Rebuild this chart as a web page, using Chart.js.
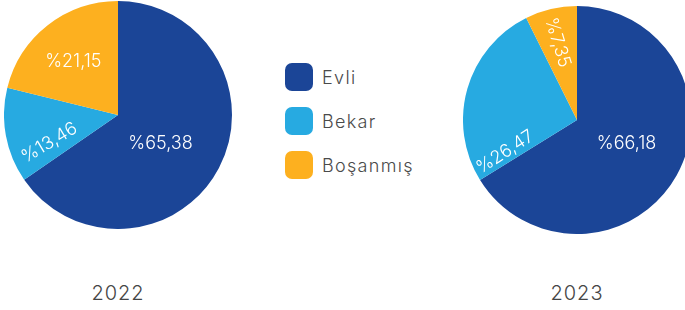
<!DOCTYPE html>
<html><head><meta charset="utf-8">
<script src="https://cdn.jsdelivr.net/npm/chart.js@4"></script>
<style>
html,body{margin:0;padding:0;background:#fff;width:685px;height:310px;overflow:hidden;position:relative;font-family:"Inter","Noto Sans",sans-serif;}
canvas{position:absolute;}
#c1{left:4px;top:1px;}
#c2{left:463px;top:6px;}
.year{position:absolute;top:281px;width:120px;text-align:center;font-size:20px;color:#454545;letter-spacing:1px;font-weight:300;}
#legend{position:absolute;left:285px;top:63px;}
.li{display:flex;align-items:center;height:28px;margin-bottom:16px;}
.box{width:28px;height:28px;border-radius:7px;margin-right:9px;}
.lt{font-size:18px;color:#4a4a4a;letter-spacing:1.3px;font-weight:300;}
</style></head>
<body>
<canvas id="c1" width="228" height="228"></canvas>
<canvas id="c2" width="228" height="228"></canvas>
<div id="legend"></div>
<div class="year" id="y1" style="left:58px;"></div>
<div class="year" id="y2" style="left:517px;"></div>
<script>
const categories = ["Evli", "Bekar", "Boşanmış"];
const years = ["2022", "2023"];
const values2022 = [65.38, 13.46, 21.15];
const values2023 = [66.18, 26.47, 7.35];
const colors = ["#1B4597", "#27AAE1", "#FDB01F"];

// label placement: [canvas angle deg, radius fraction, text rotation deg]
const place2022 = [[34, 0.45, 0], [158, 0.65, -31], [230, 0.61, 0]];
const place2023 = [[25, 0.48, 0], [156, 0.69, -33], [256, 0.70, 73]];

function fmt(v){ return "%" + v.toFixed(2).replace(".", ","); }

const labelPlugin = {
  id: 'sliceLabels',
  afterDatasetsDraw(chart, args, opts) {
    const ctx = chart.ctx;
    const meta = chart.getDatasetMeta(0);
    const data = chart.data.datasets[0].data;
    meta.data.forEach((arc, i) => {
      const p = opts.place[i];
      const a = p[0] * Math.PI / 180;
      const r = arc.outerRadius * p[1];
      const x = arc.x + Math.cos(a) * r;
      const y = arc.y + Math.sin(a) * r;
      ctx.save();
      ctx.translate(x, y);
      ctx.rotate(p[2] * Math.PI / 180);
      ctx.fillStyle = "#ffffff";
      ctx.font = '300 18px "Inter", "Noto Sans", sans-serif';
      ctx.textAlign = "center";
      ctx.textBaseline = "middle";
      ctx.fillText(fmt(data[i]), 0, 0);
      ctx.restore();
    });
  }
};

function makePie(id, values, place) {
  new Chart(document.getElementById(id), {
    type: 'pie',
    data: { labels: categories, datasets: [{ data: values, backgroundColor: colors, borderWidth: 0 }] },
    options: {
      responsive: false, animation: false,
      layout: { padding: 0 },
      plugins: { legend: { display: false }, tooltip: { enabled: false }, sliceLabels: { place: place } }
    },
    plugins: [labelPlugin]
  });
}
makePie('c1', values2022, place2022);
makePie('c2', values2023, place2023);

document.getElementById('y1').textContent = years[0];
document.getElementById('y2').textContent = years[1];
const lg = document.getElementById('legend');
categories.forEach((c, i) => {
  const d = document.createElement('div'); d.className = 'li';
  const b = document.createElement('div'); b.className = 'box'; b.style.background = colors[i];
  const t = document.createElement('span'); t.className = 'lt'; t.textContent = c;
  d.appendChild(b); d.appendChild(t); lg.appendChild(d);
});
</script>
</body></html>
